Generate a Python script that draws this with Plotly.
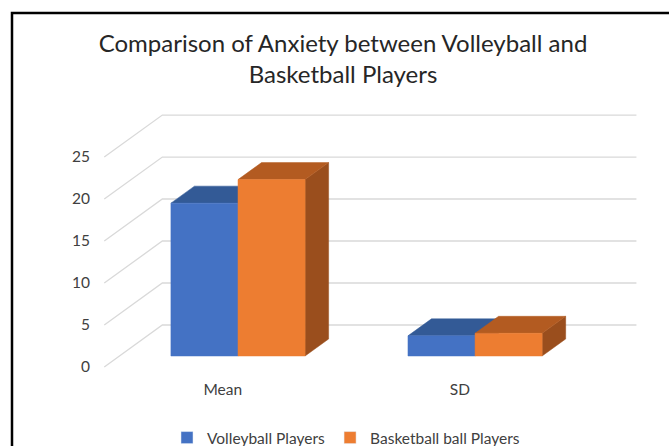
import plotly.graph_objects as go

# ---- data ----
categories = ["Mean", "SD"]
series_names = ["Volleyball Players", "Basketball ball Players"]
volleyball = [18.2, 2.4]
basketball = [21.0, 2.7]
y_ticks = [0, 5, 10, 15, 20, 25]
title_text = "Comparison of Anxiety between Volleyball and<br>Basketball Players"

# ---- styles ----
front_colors = ["#4472C4", "#ED7D31"]
top_colors = ["#335A96", "#B35B21"]
side_colors = ["#2F5597", "#9A4E1D"]
grid_color = "#D9D9D9"
FONT = "Lato"

# oblique 3D projection (x in category units, v in value units, z depth 0..1)
DX = 0.245
DY = 5.0
Z_FRONT = 0.262
Z_BACK = 0.667
BAR_W = 0.283

W, H = 669, 446
ML, MR, MT, MB = 100, 29, 100, 0
PLOT_BOTTOM_PX = 400
paper_h = H - MT - MB
paper_w = W - ML - MR


def py(px_y):
    return (H - MB - px_y) / paper_h


def px_(px_x):
    return (px_x - ML) / paper_w


def proj(x, z, v):
    return x + z * DX, v + z * DY


fig = go.Figure()

# legend entries
for name, col in zip(series_names, front_colors):
    fig.add_trace(go.Bar(x=[None], y=[None], name=name, marker_color=col))

# gridlines: floor diagonals + back wall
x_left = -0.5
x_right = len(categories) - 0.5
for v in y_ticks:
    pts = [proj(x_left, 0, v), proj(x_left, 1, v), proj(x_right, 1, v)]
    fig.add_trace(go.Scatter(x=[p[0] for p in pts], y=[p[1] for p in pts], mode="lines",
                             line=dict(color=grid_color, width=1.3), showlegend=False,
                             hoverinfo="skip"))


def poly(points, color):
    xs = [p[0] for p in points] + [points[0][0]]
    ys = [p[1] for p in points] + [points[0][1]]
    fig.add_trace(go.Scatter(x=xs, y=ys, mode="lines", fill="toself", fillcolor=color,
                             line=dict(color=color, width=0.5), showlegend=False,
                             hoverinfo="skip"))


series = [volleyball, basketball]
for ci, cat in enumerate(categories):
    for si, vals in enumerate(series):
        v = vals[ci]
        x0 = ci - BAR_W + si * BAR_W
        x1 = x0 + BAR_W
        # side face
        poly([proj(x1, Z_FRONT, 0), proj(x1, Z_BACK, 0), proj(x1, Z_BACK, v), proj(x1, Z_FRONT, v)],
             side_colors[si])
        # top face
        poly([proj(x0, Z_FRONT, v), proj(x1, Z_FRONT, v), proj(x1, Z_BACK, v), proj(x0, Z_BACK, v)],
             top_colors[si])
        # front face
        poly([proj(x0, Z_FRONT, 0), proj(x1, Z_FRONT, 0), proj(x1, Z_FRONT, v), proj(x0, Z_FRONT, v)],
             front_colors[si])

fig.update_layout(
    width=W, height=H,
    margin=dict(l=ML, r=MR, t=MT, b=MB, autoexpand=False),
    paper_bgcolor="white", plot_bgcolor="white",
    title=dict(text=title_text, x=px_(343), xref="paper", xanchor="center",
               y=1 - 52 / H, yref="container", yanchor="middle",
               font=dict(family=FONT, size=24, color="#262626")),
    xaxis=dict(type="linear", range=[-0.518, 1.760], tickvals=list(range(len(categories))),
               ticktext=categories, showgrid=False, zeroline=False, showline=False, ticks="",
               anchor="free", position=py(378),
               tickfont=dict(family=FONT, size=15.5, color="#404040")),
    yaxis=dict(range=[-3.93, 31.79], domain=[py(PLOT_BOTTOM_PX), 1], tickvals=y_ticks,
               showgrid=False, zeroline=False, showline=False, ticks="", ticklabelstandoff=9,
               tickfont=dict(family=FONT, size=15.5, color="#404040")),
    legend=dict(orientation="h", x=px_(346), xanchor="center", y=py(438), yanchor="middle",
                font=dict(family=FONT, size=15.5, color="#404040")),
    shapes=[dict(type="rect", xref="paper", yref="paper", x0=px_(12), x1=1.3,
                 y0=-0.3, y1=py(13), line=dict(color="black", width=2.5))],
    showlegend=True,
)

fig.write_html("out.html")
